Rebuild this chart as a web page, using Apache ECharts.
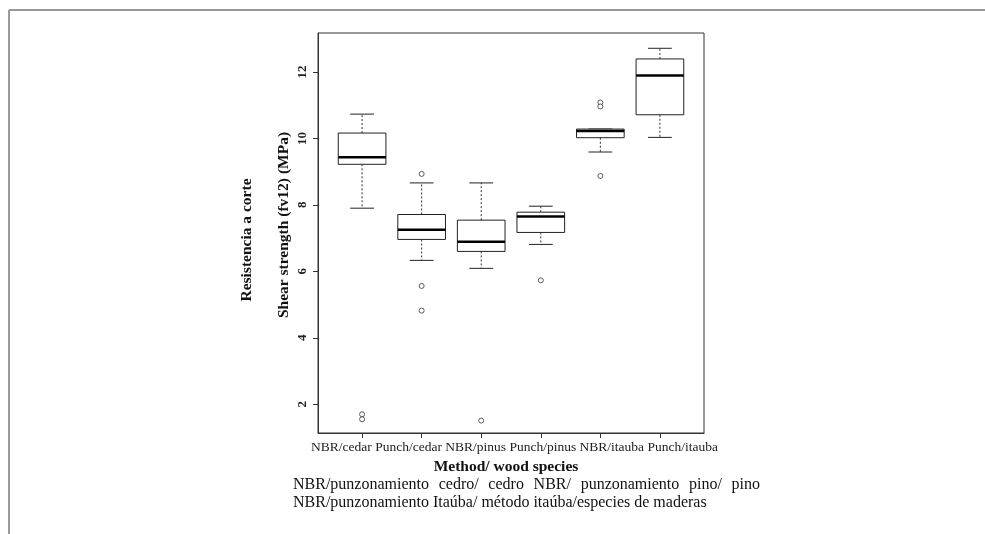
<!DOCTYPE html>
<html>
<head>
<meta charset="utf-8">
<script src="https://cdn.jsdelivr.net/npm/echarts@6/dist/echarts.min.js"></script>
<style>
html,body{margin:0;padding:0;background:#fff;}
#c{width:985px;height:534px;}
</style>
</head>
<body>
<div id="c"></div>
<script>
// ---- data ----
const categories = ['NBR/cedar', 'Punch/cedar', 'NBR/pinus', 'Punch/pinus', 'NBR/itauba', 'Punch/itauba'];
const lowerWhisker = [7.90, 6.33, 6.09, 6.81, 9.59, 10.03];
const q1 = [9.22, 6.96, 6.60, 7.17, 10.02, 10.71];
const median = [9.43, 7.25, 6.89, 7.65, 10.22, 11.89];
const q3 = [10.16, 7.71, 7.54, 7.78, 10.28, 12.39];
const upperWhisker = [10.73, 8.66, 8.66, 7.96, 10.28, 12.71];
// outliers: [category position (1-based), value]
const outliers = [
  [1, 1.70], [1, 1.55],
  [2, 8.93], [2, 5.56], [2, 4.82],
  [3, 1.51],
  [4, 5.73],
  [5, 11.08], [5, 10.96], [5, 8.87]
];
const yTicks = [2, 4, 6, 8, 10, 12];
const xTicks = [1, 2, 3, 4, 5, 6];
const yTitle1 = 'Resistencia a corte';
const yTitle2 = 'Shear strength (fv12) (MPa)';
const xTitle = 'Method/ wood species';
const captionLine1 = 'NBR/punzonamiento cedro/ cedro NBR/ punzonamiento pino/ pino';
const captionLine2 = 'NBR/punzonamiento Itaúba/ método itaúba/especies de maderas';

const boxData = categories.map((c, i) => [i + 1, lowerWhisker[i], q1[i], median[i], q3[i], upperWhisker[i]]);

const SERIF = '"Liberation Serif", "DejaVu Serif", serif';
const chart = echarts.init(document.getElementById('c'), null, {renderer: 'canvas'});

// justified caption line 1
const capFont = 16;
const meas = document.createElement('canvas').getContext('2d');
meas.font = capFont + 'px ' + SERIF;
const words = captionLine1.split(' ');
const capLeft = 293, capRight = 760;
const totalW = words.reduce((s, w) => s + meas.measureText(w).width, 0);
const gap = (capRight - capLeft - totalW) / (words.length - 1);
const captionEls = [];
let cx = capLeft;
words.forEach(w => {
  captionEls.push({type: 'text', x: cx, y: 485, style: {text: w, font: capFont + 'px ' + SERIF, fill: '#111', textAlign: 'left', textVerticalAlign: 'middle'}});
  cx += meas.measureText(w).width + gap;
});
captionEls.push({type: 'text', x: capLeft, y: 503, style: {text: captionLine2, font: capFont + 'px ' + SERIF, fill: '#111', textAlign: 'left', textVerticalAlign: 'middle'}});

function renderBox(params, api) {
  const x = api.value(0);
  const lo = api.value(1), b1 = api.value(2), md = api.value(3), b3 = api.value(4), hi = api.value(5);
  const pL = api.coord([x - 0.4, md]);
  const pR = api.coord([x + 0.4, md]);
  const cL = api.coord([x - 0.2, md])[0];
  const cR = api.coord([x + 0.2, md])[0];
  const xc = api.coord([x, md])[0];
  const yLo = api.coord([x, lo])[1], y1 = api.coord([x, b1])[1], yMd = api.coord([x, md])[1], y3 = api.coord([x, b3])[1], yHi = api.coord([x, hi])[1];
  const st = {stroke: '#222', lineWidth: 1, fill: null};
  const dash = {stroke: '#333', lineWidth: 1, lineDash: [2, 2]};
  return {
    type: 'group',
    children: [
      {type: 'line', shape: {x1: xc, y1: y3, x2: xc, y2: yHi}, style: dash},
      {type: 'line', shape: {x1: xc, y1: y1, x2: xc, y2: yLo}, style: dash},
      {type: 'line', shape: {x1: cL, y1: yHi, x2: cR, y2: yHi}, style: st},
      {type: 'line', shape: {x1: cL, y1: yLo, x2: cR, y2: yLo}, style: st},
      {type: 'rect', shape: {x: pL[0], y: y3, width: pR[0] - pL[0], height: y1 - y3}, style: {stroke: '#222', lineWidth: 1, fill: '#fff'}},
      {type: 'line', shape: {x1: pL[0], y1: yMd, x2: pR[0], y2: yMd}, style: {stroke: '#000', lineWidth: 2.5}}
    ]
  };
}

const option = {
  backgroundColor: '#fff',
  animation: false,
  grid: {left: 318, right: 281, top: 33, bottom: 101, show: true, borderColor: '#333', borderWidth: 1, backgroundColor: 'transparent'},
  xAxis: {
    type: 'value', min: 0.26, max: 6.74,
    axisLine: {show: true, lineStyle: {color: '#333', width: 1}},
    axisTick: {show: true, inside: false, length: 5, customValues: xTicks, lineStyle: {color: '#333'}},
    axisLabel: {show: false},
    splitLine: {show: false}
  },
  yAxis: {
    type: 'value', min: 1.137, max: 13.17,
    axisLine: {show: true, lineStyle: {color: '#333', width: 1}},
    axisTick: {show: true, inside: false, length: 5, customValues: yTicks, lineStyle: {color: '#333'}},
    axisLabel: {show: true, customValues: yTicks, rotate: 90, margin: 9, fontFamily: SERIF, fontSize: 13, fontWeight: 'bold', color: '#222'},
    splitLine: {show: false}
  },
  graphic: [
    {type: 'line', shape: {x1: 9, y1: 10, x2: 985, y2: 10}, style: {stroke: '#999', lineWidth: 2}},
    {type: 'line', shape: {x1: 9, y1: 10, x2: 9, y2: 534}, style: {stroke: '#999', lineWidth: 2}},
    // category labels drawn as one continuous row, as in the reference
    {type: 'text', x: 514.5, y: 447, style: {text: categories.join(' '), font: '13.5px ' + SERIF, fill: '#222', textAlign: 'center', textVerticalAlign: 'middle'}},
    {type: 'text', x: 247, y: 240, rotation: Math.PI / 2, style: {text: yTitle1, font: 'bold 15.5px ' + SERIF, fill: '#111', textAlign: 'center', textVerticalAlign: 'middle'}},
    {type: 'text', x: 284, y: 225, rotation: Math.PI / 2, style: {text: yTitle2, font: 'bold 15.5px ' + SERIF, fill: '#111', textAlign: 'center', textVerticalAlign: 'middle'}},
    {type: 'text', x: 506, y: 467, style: {text: xTitle, font: 'bold 15.5px ' + SERIF, fill: '#111', textAlign: 'center', textVerticalAlign: 'middle'}}
  ].concat(captionEls),
  series: [
    {type: 'custom', renderItem: renderBox, data: boxData, encode: {x: 0, y: [1, 2, 3, 4, 5]}, clip: false, z: 2},
    {type: 'scatter', data: outliers, symbol: 'circle', symbolSize: 5, z: 3, itemStyle: {color: '#fff', borderColor: '#333', borderWidth: 0.8, opacity: 1}}
  ]
};
chart.setOption(option);
</script>
</body>
</html>
